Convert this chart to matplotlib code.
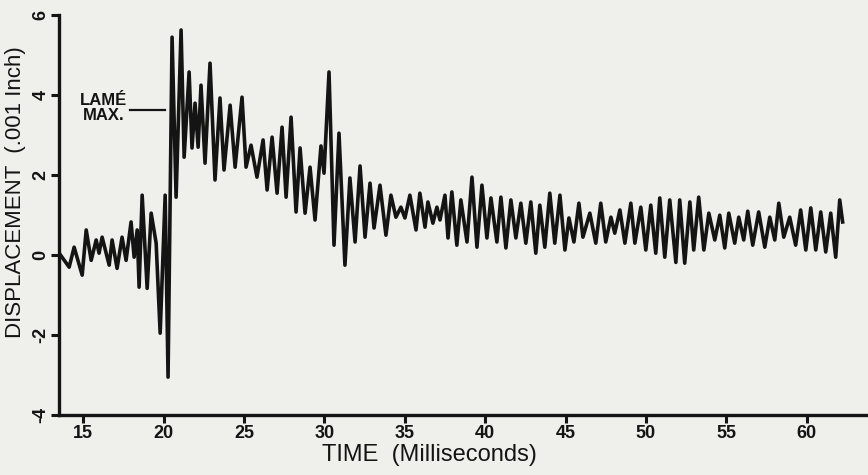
import matplotlib
matplotlib.use('Agg')
import matplotlib.pyplot as plt

PAPER = '#efefec'
INK = '#141414'

plt.rcParams.update({
    'font.family': 'Liberation Sans',
    'axes.spines.top': False,
    'axes.spines.right': False,
})

time_ms = [
    13.51, 14.13, 14.44, 14.94, 15.19, 15.50, 15.81, 15.99, 16.18, 16.62,
    16.80, 17.11, 17.42, 17.67, 17.98, 18.17, 18.36, 18.48, 18.67, 18.98,
    19.23, 19.54, 19.79, 20.10, 20.28, 20.53, 20.78, 21.09, 21.28,
    21.59, 21.77, 21.96, 22.15, 22.33, 22.58, 22.89, 23.20, 23.51, 23.76,
    24.14, 24.45, 24.88, 25.13, 25.44, 25.81, 26.19, 26.44, 26.75, 27.06,
    27.37, 27.62, 27.93, 28.24, 28.49, 28.80, 29.11, 29.42, 29.79,
    29.98, 30.29, 30.60, 30.91, 31.28, 31.59, 31.91, 32.22, 32.53, 32.84,
    33.09, 33.46, 33.83, 34.14, 34.45, 34.76, 35.01, 35.32, 35.70, 35.94,
    36.26, 36.44, 36.75, 37.00, 37.19, 37.50, 37.69,
    37.93, 38.24, 38.49, 38.87, 39.18, 39.49, 39.80, 40.11, 40.36, 40.73,
    40.98, 41.29, 41.60, 41.91, 42.22, 42.53, 42.84, 43.15, 43.40, 43.71,
    44.02, 44.33, 44.65, 44.96, 45.21, 45.52, 45.83,
    46.08, 46.51, 46.88, 47.19, 47.50, 47.82, 48.06, 48.38, 48.69, 49.06,
    49.31, 49.68, 49.99, 50.30, 50.61, 50.86, 51.17, 51.48, 51.86, 52.10,
    52.41, 52.73, 52.97, 53.28, 53.60, 53.91,
    54.28, 54.59, 54.90, 55.15, 55.52, 55.77, 56.08, 56.33, 56.64, 57.01,
    57.39, 57.70, 58.01, 58.26, 58.57, 58.94, 59.31, 59.62, 59.94, 60.25,
    60.56, 60.87, 61.18, 61.49, 61.80, 62.05, 62.23,
]
displacement = [
    0.05, -0.30, 0.20, -0.50, 0.63, -0.13, 0.38, 0.05, 0.45, -0.25,
    0.38, -0.33, 0.45, -0.13, 0.83, -0.05, 0.63, -0.80, 1.50, -0.83,
    1.05, 0.30, -1.95, 1.50, -3.05, 5.45, 1.45, 5.63, 2.45,
    4.58, 2.68, 3.80, 2.70, 4.25, 2.30, 4.80, 1.88, 3.93, 2.13,
    3.75, 2.20, 3.95, 2.20, 2.75, 1.95, 2.88, 1.63, 2.95, 1.55,
    3.20, 1.45, 3.45, 1.08, 2.68, 1.05, 2.20, 0.88, 2.73,
    2.05, 4.58, 0.25, 3.05, -0.25, 1.93, 0.33, 2.23, 0.45, 1.80,
    0.68, 1.75, 0.50, 1.50, 0.95, 1.20, 0.93, 1.50, 0.63, 1.55,
    0.70, 1.33, 0.80, 1.20, 0.88, 1.50, 0.43,
    1.58, 0.25, 1.38, 0.33, 1.95, 0.20, 1.75, 0.43, 1.43, 0.33,
    1.45, 0.18, 1.38, 0.43, 1.30, 0.30, 1.33, 0.05, 1.25, 0.20,
    1.55, 0.30, 1.50, 0.13, 0.93, 0.33, 1.30,
    0.45, 1.05, 0.30, 1.30, 0.33, 0.95, 0.55, 1.13, 0.30, 1.30,
    0.30, 1.20, 0.13, 1.25, 0.05, 1.43, -0.05, 1.38, -0.18, 1.38,
    -0.20, 1.33, 0.13, 1.45, 0.13, 1.05,
    0.38, 1.00, 0.18, 1.05, 0.30, 0.95, 0.38, 1.10, 0.25, 1.08,
    0.20, 0.95, 0.38, 1.30, 0.45, 0.95, 0.25, 1.13, 0.13, 1.18,
    0.13, 1.08, 0.08, 1.05, -0.05, 1.38, 0.83,
]

x_ticks = [15, 20, 25, 30, 35, 40, 45, 50, 55, 60]
y_ticks = [-4, -2, 0, 2, 4, 6]
lame_max = 3.63          # level of the LAMÉ MAX. marker
lame_span = (17.9, 20.1)

fig = plt.figure(figsize=(8.68, 4.75), dpi=100, facecolor=PAPER)
ax = fig.add_axes([0.068, 0.126, 0.930, 0.842], facecolor=PAPER)

ax.plot(time_ms, displacement, color=INK, lw=2.6, solid_joinstyle='round')

ax.set_xlim(13.5, 63.7)
ax.set_ylim(-4, 6)
ax.set_xticks(x_ticks)
ax.set_yticks(y_ticks)
ax.set_xticklabels([str(v) for v in x_ticks], fontsize=13, fontweight='bold', color=INK)
ax.set_yticklabels([str(v) for v in y_ticks], fontsize=13, fontweight='bold',
                   color=INK, rotation=90, va='center')
ax.tick_params(axis='both', direction='out', length=5.5, width=2.2, color=INK, pad=1.5)
for side in ('left', 'bottom'):
    ax.spines[side].set_linewidth(2.4)
    ax.spines[side].set_color(INK)

# LAMÉ MAX. marker
ax.plot(lame_span, [lame_max, lame_max], color=INK, lw=1.6)
ax.text(17.75, lame_max + 0.05, 'LAMÉ\nMAX.', ha='right', va='center',
        fontsize=12, fontweight='bold', color=INK, linespacing=1.05,
        multialignment='center')

fig.text(0.018, 0.596, 'DISPLACEMENT  (.001 Inch)', rotation=90, ha='center', va='center',
         fontsize=16, color=INK)
fig.text(0.495, 0.042, 'TIME  (Milliseconds)', ha='center', va='center',
         fontsize=17, color=INK)

fig.savefig('out.png', dpi=100, facecolor=PAPER)
